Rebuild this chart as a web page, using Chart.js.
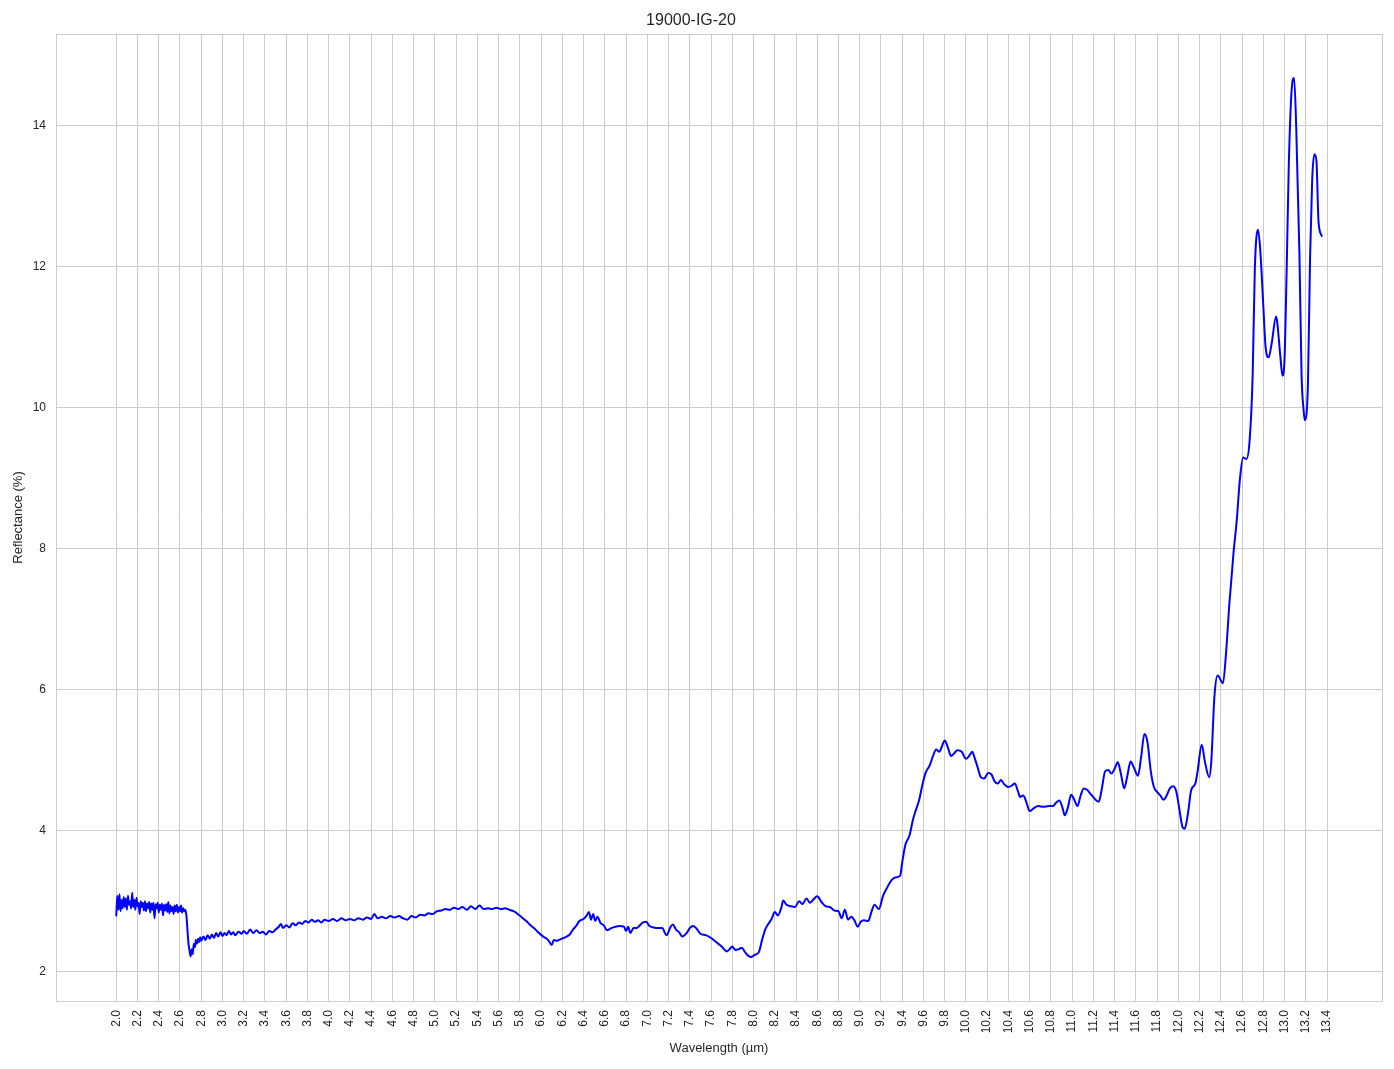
<!DOCTYPE html>
<html>
<head>
<meta charset="utf-8">
<script src="https://cdn.jsdelivr.net/npm/chart.js@4/dist/chart.umd.min.js"></script>
<style>
  html, body { margin: 0; padding: 0; background: #ffffff; }
  #wrap { width: 1394px; height: 1069px; }
</style>
</head>
<body>
<div id="wrap"><canvas id="c" width="1394" height="1069"></canvas></div>
<script>
const chartTitle = "19000-IG-20";
const xTitle = "Wavelength (µm)";
const yTitle = "Reflectance (%)";

const wavelength = [
2.00,2.01,2.02,2.03,2.04,2.05,2.06,2.07,2.08,2.09,2.10,2.11,2.12,2.13,2.14,2.15,2.16,2.17,2.18,2.19,
2.20,2.21,2.22,2.23,2.24,2.25,2.26,2.27,2.28,2.29,2.30,2.31,2.32,2.33,2.34,2.35,2.36,2.37,2.38,2.39,
2.40,2.41,2.42,2.43,2.44,2.45,2.46,2.47,2.48,2.49,2.50,2.51,2.52,2.53,2.54,2.55,2.56,2.57,2.58,2.59,
2.60,2.61,2.62,2.63,2.64,2.65,2.66,2.67,2.68,2.69,2.70,2.71,2.72,2.73,2.74,2.75,2.76,2.77,2.78,2.79,
2.80,2.82,2.84,2.86,2.88,2.90,2.92,2.94,2.96,2.98,3.00,3.02,3.04,3.06,3.08,3.10,3.12,3.15,3.18,3.20,
3.23,3.26,3.29,3.32,3.35,3.38,3.41,3.44,3.47,3.50,3.53,3.55,3.57,3.60,3.63,3.66,3.69,3.72,3.75,3.78,
3.81,3.84,3.87,3.90,3.93,3.96,4.00,4.04,4.08,4.12,4.16,4.20,4.24,4.28,4.32,4.36,4.40,4.43,4.46,4.50,
4.54,4.58,4.62,4.66,4.70,4.74,4.78,4.82,4.86,4.90,4.94,4.98,5.02,5.06,5.10,5.14,5.18,5.22,5.26,5.30,
5.34,5.38,5.42,5.46,5.50,5.54,5.58,5.62,5.66,5.70,5.74,5.78,5.82,5.86,5.90,5.94,5.98,6.02,6.06,6.08,
6.10,6.12,6.15,6.18,6.21,6.24,6.27,6.30,6.33,6.36,6.40,6.43,6.45,6.47,6.49,6.51,6.53,6.56,6.59,6.62,
6.66,6.70,6.74,6.78,6.80,6.82,6.84,6.87,6.90,6.93,6.96,6.99,7.02,7.06,7.10,7.14,7.18,7.22,7.24,7.27,
7.30,7.33,7.37,7.40,7.43,7.46,7.50,7.55,7.60,7.65,7.70,7.75,7.78,7.80,7.83,7.86,7.89,7.92,7.95,7.98,
8.01,8.05,8.08,8.11,8.14,8.17,8.20,8.23,8.26,8.28,8.31,8.35,8.39,8.43,8.46,8.50,8.53,8.56,8.60,8.64,
8.68,8.72,8.76,8.80,8.83,8.86,8.89,8.92,8.95,8.98,9.01,9.04,9.08,9.11,9.14,9.18,9.22,9.26,9.30,9.34,
9.38,9.40,9.43,9.47,9.50,9.53,9.56,9.59,9.62,9.66,9.69,9.72,9.75,9.77,9.80,9.83,9.86,9.89,9.92,9.96,
10.00,10.03,10.06,10.08,10.11,10.14,10.17,10.21,10.24,10.27,10.30,10.33,10.36,10.40,10.43,10.46,10.49,10.51,10.54,10.57,
10.60,10.64,10.68,10.73,10.78,10.82,10.85,10.88,10.91,10.93,10.96,10.99,11.02,11.05,11.08,11.11,11.14,11.18,11.22,11.25,
11.28,11.31,11.34,11.37,11.40,11.43,11.46,11.49,11.52,11.55,11.58,11.62,11.65,11.68,11.71,11.74,11.77,11.80,11.83,11.86,
11.89,11.92,11.95,11.98,12.01,12.04,12.06,12.09,12.12,12.16,12.18,12.22,12.25,12.29,12.31,12.34,12.37,12.42,12.45,12.48,
12.52,12.55,12.58,12.61,12.64,12.67,12.70,12.72,12.75,12.77,12.80,12.82,12.85,12.88,12.92,12.93,12.96,12.98,13.00,13.02,
13.04,13.07,13.09,13.11,13.14,13.16,13.18,13.19,13.22,13.24,13.26,13.28,13.30,13.32,13.35
];

const reflectance = [
2.80,3.08,2.88,3.10,2.86,3.02,2.90,3.06,2.92,3.04,2.88,3.08,2.95,3.00,2.90,3.12,2.92,3.02,2.88,3.05,
2.93,2.98,2.82,3.00,2.92,2.98,2.87,3.00,2.86,2.97,2.90,2.99,2.84,2.97,2.88,2.98,2.76,2.96,2.90,2.98,
2.84,2.95,2.88,2.97,2.80,2.95,2.87,2.96,2.85,2.99,2.83,2.94,2.86,2.92,2.82,2.94,2.86,2.95,2.84,2.92,
2.86,2.94,2.84,2.90,2.86,2.88,2.80,2.60,2.40,2.30,2.22,2.32,2.25,2.40,2.35,2.45,2.40,2.47,2.42,2.49,
2.44,2.50,2.45,2.52,2.47,2.53,2.48,2.55,2.50,2.56,2.51,2.55,2.52,2.58,2.53,2.56,2.52,2.57,2.54,2.58,
2.54,2.60,2.55,2.59,2.55,2.57,2.53,2.58,2.56,2.60,2.64,2.68,2.62,2.66,2.63,2.69,2.66,2.70,2.68,2.72,
2.70,2.74,2.71,2.73,2.70,2.74,2.72,2.75,2.72,2.76,2.73,2.75,2.73,2.76,2.74,2.77,2.75,2.82,2.76,2.78,
2.76,2.79,2.77,2.79,2.76,2.74,2.79,2.77,2.81,2.80,2.83,2.82,2.86,2.87,2.89,2.88,2.91,2.89,2.92,2.88,
2.93,2.89,2.94,2.89,2.90,2.89,2.91,2.89,2.90,2.88,2.86,2.82,2.77,2.72,2.66,2.61,2.55,2.50,2.46,2.42,
2.38,2.45,2.44,2.46,2.48,2.50,2.53,2.60,2.65,2.72,2.75,2.80,2.85,2.74,2.82,2.72,2.78,2.69,2.66,2.59,
2.62,2.64,2.65,2.64,2.58,2.64,2.55,2.62,2.62,2.66,2.70,2.71,2.65,2.63,2.62,2.62,2.52,2.64,2.67,2.60,
2.56,2.50,2.55,2.62,2.65,2.62,2.54,2.52,2.48,2.42,2.36,2.29,2.33,2.36,2.31,2.32,2.34,2.28,2.23,2.21,
2.24,2.28,2.45,2.60,2.68,2.75,2.85,2.80,2.90,3.01,2.95,2.93,2.92,3.00,2.96,3.04,2.98,3.02,3.07,2.99,
2.93,2.92,2.87,2.86,2.76,2.88,2.74,2.78,2.73,2.64,2.71,2.73,2.72,2.85,2.95,2.89,3.08,3.20,3.30,3.34,
3.36,3.55,3.80,3.94,4.15,4.30,4.44,4.65,4.82,4.93,5.06,5.15,5.12,5.18,5.28,5.18,5.06,5.10,5.14,5.12,
5.02,5.06,5.12,5.04,4.90,4.76,4.74,4.82,4.80,4.70,4.67,4.72,4.66,4.62,4.64,4.67,4.56,4.48,4.50,4.40,
4.28,4.32,4.35,4.34,4.35,4.35,4.40,4.43,4.32,4.22,4.33,4.51,4.44,4.35,4.50,4.60,4.58,4.51,4.44,4.41,
4.60,4.84,4.86,4.81,4.88,4.97,4.80,4.60,4.78,4.98,4.90,4.78,5.05,5.37,5.25,4.85,4.62,4.55,4.50,4.44,
4.50,4.60,4.63,4.56,4.30,4.05,4.03,4.24,4.57,4.67,4.83,5.22,4.98,4.76,4.98,5.91,6.20,6.09,6.54,7.21,
7.95,8.40,8.99,9.29,9.27,9.51,10.47,11.96,12.52,12.26,11.44,10.88,10.71,10.92,11.29,11.22,10.73,10.45,10.70,11.96,
13.44,14.56,14.67,13.96,12.18,10.47,9.95,9.82,10.32,12.11,13.22,13.59,13.50,12.63,12.43
];

const xTickValues = [2.0,2.2,2.4,2.6,2.8,3.0,3.2,3.4,3.6,3.8,4.0,4.2,4.4,4.6,4.8,5.0,5.2,5.4,5.6,5.8,
  6.0,6.2,6.4,6.6,6.8,7.0,7.2,7.4,7.6,7.8,8.0,8.2,8.4,8.6,8.8,9.0,9.2,9.4,9.6,9.8,
  10.0,10.2,10.4,10.6,10.8,11.0,11.2,11.4,11.6,11.8,12.0,12.2,12.4,12.6,12.8,13.0,13.2,13.4];
const yTickValues = [2,4,6,8,10,12,14];

const points = wavelength.map((w, i) => ({ x: w, y: reflectance[i] }));

// matplotlib-style 5% margins
const xMinD = Math.min(...wavelength), xMaxD = Math.max(...wavelength);
const yMinD = Math.min(...reflectance), yMaxD = Math.max(...reflectance);
const xPad = (xMaxD - xMinD) * 0.05, yPad = (yMaxD - yMinD) * 0.05;

const GRID = '#cccccc';
const TEXT = '#262626';
const FONT = "'Liberation Sans', Arial, sans-serif";

const frame = {
  id: 'frame',
  afterDatasetsDraw(chart) {
    const a = chart.chartArea, ctx = chart.ctx;
    ctx.save();
    ctx.strokeStyle = GRID;
    ctx.lineWidth = 1;
    ctx.strokeRect(Math.round(a.left) + 0.5, Math.round(a.top) + 0.5,
                   Math.round(a.right - a.left), Math.round(a.bottom - a.top));
    ctx.restore();
  }
};

new Chart(document.getElementById('c'), {
  type: 'line',
  data: {
    datasets: [{
      data: points,
      borderColor: '#0000ff',
      borderWidth: 2,
      borderJoinStyle: 'round',
      borderCapStyle: 'round',
      pointRadius: 0,
      fill: false,
      tension: 0.4,
      cubicInterpolationMode: 'monotone'
    }]
  },
  options: {
    responsive: false,
    animation: false,
    devicePixelRatio: 1,
    layout: { padding: { left: 0, right: 12, top: 0, bottom: 0 } },
    plugins: {
      legend: { display: false },
      tooltip: { enabled: false },
      title: {
        display: true,
        text: chartTitle,
        color: TEXT,
        font: { family: FONT, size: 16, weight: 'normal' },
        padding: { top: 11, bottom: 3.8 }
      }
    },
    scales: {
      x: {
        type: 'linear',
        min: xMinD - xPad,
        max: xMaxD + xPad,
        afterBuildTicks: (s) => { s.ticks = xTickValues.map(v => ({ value: v })); },
        afterFit: (s) => { s.height = 68; },
        ticks: {
          autoSkip: false,
          minRotation: 90,
          maxRotation: 90,
          padding: 9,
          color: TEXT,
          font: { family: FONT, size: 12 },
          callback: (v) => Number(v).toFixed(1)
        },
        grid: { color: GRID, lineWidth: 1, drawTicks: false },
        border: { display: true, color: GRID },
        title: {
          display: true,
          text: xTitle,
          color: TEXT,
          font: { family: FONT, size: 13 },
          padding: { top: 4, bottom: 13 }
        }
      },
      y: {
        type: 'linear',
        min: yMinD - yPad,
        max: yMaxD + yPad,
        afterBuildTicks: (s) => { s.ticks = yTickValues.map(v => ({ value: v })); },
        afterFit: (s) => { s.width = 56; },
        ticks: {
          padding: 10,
          color: TEXT,
          font: { family: FONT, size: 12 },
          callback: (v) => String(v)
        },
        grid: { color: GRID, lineWidth: 1, drawTicks: false },
        border: { display: true, color: GRID },
        title: {
          display: true,
          text: yTitle,
          color: TEXT,
          font: { family: FONT, size: 13 },
          padding: { top: 11, bottom: 4 }
        }
      }
    }
  },
  plugins: [frame]
});
</script>
</body>
</html>
